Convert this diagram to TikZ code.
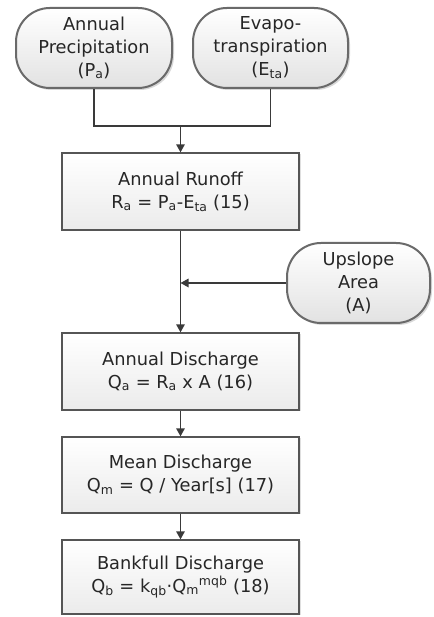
\documentclass[tikz,border=0pt]{standalone}
\usepackage{fontspec}
\setmainfont{DejaVu Sans}
\usetikzlibrary{arrows.meta,shadows}
\definecolor{Canvas}{HTML}{FFFFFF}
\definecolor{Ink}{HTML}{262626}
\definecolor{Wire}{HTML}{3A3A3A}
\definecolor{BoxLine}{HTML}{555555}
\definecolor{PillLine}{HTML}{6A6A6A}
\definecolor{BoxLow}{HTML}{EBEBEB}
\definecolor{PillLow}{HTML}{E2E2E2}

\begin{document}
\begin{tikzpicture}[x=1pt,y=1pt,>={Triangle[length=8pt,width=8.5pt]},
  every node/.style={text=Ink,font=\fontsize{17.8}{23}\selectfont,align=center,inner sep=0pt},
  calcbox/.style={draw=BoxLine,line width=1.3pt,top color=white,bottom color=BoxLow,minimum width=237pt,
    drop shadow={opacity=0.25,shadow xshift=1.5pt,shadow yshift=-1.5pt}},
  inputpill/.style={draw=PillLine,line width=2pt,rounded corners=34pt,top color=white,bottom color=PillLow,minimum height=80pt,
    drop shadow={opacity=0.3,shadow xshift=2pt,shadow yshift=-2pt}},
  wire/.style={Wire,line width=1.4pt}]
\fill[Canvas] (0,0) rectangle (433,617);
\node[inputpill,minimum width=156pt] (precip) at (94,569){Annual\\Precipitation\\(P\textsubscript{a})};
\node[inputpill,minimum width=155pt] (evapo) at (270.5,569){Evapo-\\transpiration\\(E\textsubscript{ta})};
\node[calcbox,minimum height=77pt] (runoff) at (180.5,425.5){Annual Runoff\\R\textsubscript{a} = P\textsubscript{a}-E\textsubscript{ta} (15)};
\node[inputpill,minimum width=143pt] (upslope) at (358.5,334){Upslope\\Area\\(A)};
\node[calcbox,minimum height=77pt] (annual) at (180.5,245.5){Annual Discharge\\Q\textsubscript{a} = R\textsubscript{a} x A (16)};
\node[calcbox,minimum height=76pt] (mean) at (180.5,142){Mean Discharge\\Q\textsubscript{m} = Q / Year[s] (17)};
\node[calcbox,minimum height=74pt] (bankfull) at (180.5,40){Bankfull Discharge\\Q\textsubscript{b} = k\textsubscript{qb}·Q\textsubscript{m}\textsuperscript{mqb} (18)};
\coordinate (join) at (180.5,491);
\coordinate (merge) at (runoff.south |- upslope.west);
% inputs into runoff
\draw[wire] (precip.south) |- (join) -| (evapo.south);
\draw[wire,->] (join) -- (runoff.north);
% runoff and area into discharge
\draw[wire,->] (runoff.south) -- (annual.north);
\draw[wire,->] (upslope.west) -- (merge);
\draw[wire,->] (annual.south) -- (mean.north);
\draw[wire,->] (mean.south) -- (bankfull.north);
\end{tikzpicture}
\end{document}
